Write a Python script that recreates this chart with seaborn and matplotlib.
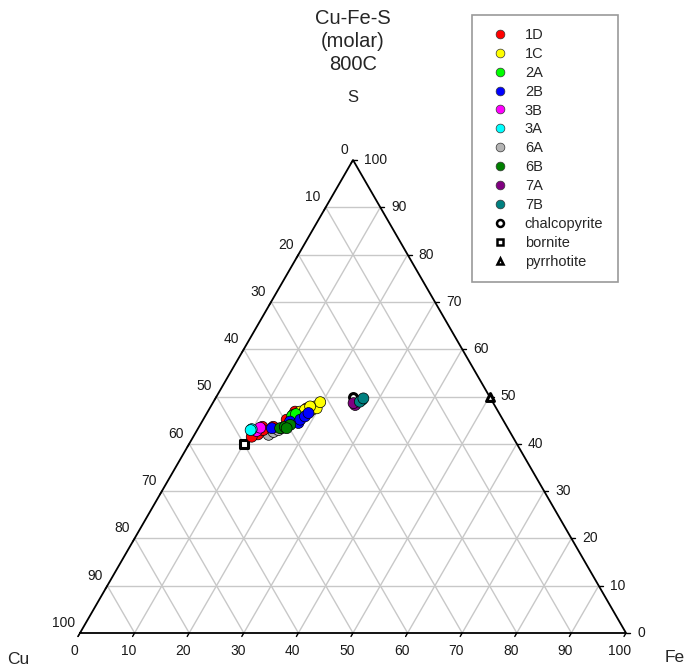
import numpy as np
import pandas as pd
import matplotlib
matplotlib.use("Agg")
import matplotlib.pyplot as plt
import seaborn as sns
from matplotlib.lines import Line2D
from matplotlib.patches import Rectangle

sns.set_style("white")
plt.rcParams["font.family"] = ["Liberation Sans", "DejaVu Sans"]

# ---------------- data (molar %, Cu = 100 - Fe - S) ----------------
samples = ["1D", "1C", "2A", "2B", "3B", "3A", "6A", "6B", "7A", "7B"]
sample_colors = ["#ff0000", "#ffff00", "#00ff00", "#0000ff", "#ff00ff",
                 "#00ffff", "#b4b4b4", "#008000", "#800080", "#008080"]

fe_1D = [11.6, 11.6, 12.1, 13.6, 15.3, 16.0, 17.8, 10.7]
s_1D = [42.0, 43.6, 42.9, 43.6, 45.1, 46.8, 47.5, 41.5]
fe_1C = [16.0, 16.9, 17.6, 18.9, 19.1, 19.6, 19.6, 18.2]
s_1C = [46.1, 46.8, 47.2, 47.2, 47.9, 47.5, 48.8, 47.9]
fe_2A = [15.9, 16.4]
s_2A = [45.9, 46.3]
fe_2B = [13.5, 16.1, 17.8, 17.8, 18.3, 18.6]
s_2B = [43.3, 44.7, 44.4, 45.1, 45.8, 46.5]
fe_3B = [11.0, 11.3]
s_3B = [42.7, 43.4]
fe_3A = [9.9, 9.8]
s_3A = [43.1, 42.9]
fe_6A = [13.6, 14.2, 14.9, 15.3, 17.6]
s_6A = [41.9, 42.5, 42.9, 43.3, 45.4]
fe_6B = [15.0, 15.7, 16.5, 16.2]
s_6B = [43.3, 43.6, 44.0, 43.3]
fe_7A = [26.3, 25.8]
s_7A = [48.2, 48.6]
fe_7B = [27.0, 26.8, 27.1]
s_7B = [49.3, 48.9, 49.6]

minerals = ["chalcopyrite", "bornite", "pyrrhotite"]
mineral_cu = [25.0, 50.0, 0.0]
mineral_fe = [25.0, 10.0, 50.0]
mineral_s = [50.0, 40.0, 50.0]
mineral_markers = ["o", "s", "^"]

tick_values = [0, 10, 20, 30, 40, 50, 60, 70, 80, 90, 100]
title_lines = ["Cu-Fe-S", "(molar)", "800C"]

# ---------------- ternary projection ----------------
H = np.sqrt(3) / 2


def proj(fe, s):
    fe = np.asarray(fe, float)
    s = np.asarray(s, float)
    return fe + s / 2, s * H


series = {
    "1D": (fe_1D, s_1D), "1C": (fe_1C, s_1C), "2A": (fe_2A, s_2A),
    "2B": (fe_2B, s_2B), "3B": (fe_3B, s_3B), "3A": (fe_3A, s_3A),
    "6A": (fe_6A, s_6A), "6B": (fe_6B, s_6B), "7A": (fe_7A, s_7A),
    "7B": (fe_7B, s_7B),
}
draw_order = ["6A", "1D", "1C", "2A", "2B", "6B", "3B", "3A", "7A", "7B"]
rows = []
for name in draw_order:
    fe, s = series[name]
    for f, v in zip(fe, s):
        rows.append({"sample": name, "Fe": f, "S": v, "Cu": 100 - f - v})
df = pd.DataFrame(rows)
df["x"], df["y"] = proj(df["Fe"], df["S"])

mdf = pd.DataFrame({"mineral": minerals, "Cu": mineral_cu,
                    "Fe": mineral_fe, "S": mineral_s})
mdf["x"], mdf["y"] = proj(mdf["Fe"], mdf["S"])

# ---------------- figure ----------------
W, Hpx = 689, 668
fig = plt.figure(figsize=(W / 100, Hpx / 100), dpi=100)
ax = fig.add_axes([80 / W, 35 / Hpx, 546 / W, 473 / Hpx])
ax.set_xlim(0, 100)
ax.set_ylim(0, 100 * H)
ax.axis("off")

grid_c = "#c8c8c8"
for k in tick_values[1:-1]:
    xs, ys = proj([0, 100 - k], [k, k])          # constant S
    ax.plot(xs, ys, color=grid_c, lw=1.0, zorder=1)
    xs, ys = proj([k, k], [0, 100 - k])          # constant Fe
    ax.plot(xs, ys, color=grid_c, lw=1.0, zorder=1)
    xs, ys = proj([100 - k, 0], [0, 100 - k])    # constant Cu
    ax.plot(xs, ys, color=grid_c, lw=1.0, zorder=1)

xs, ys = proj([0, 100, 0, 0], [0, 0, 100, 0])
ax.plot(xs, ys, color="black", lw=1.3, zorder=2, solid_joinstyle="miter",
        clip_on=False)

tick_fs = 10
tick_col = "#1a1a1a"
tl = 4 / 5.46  # tick length in data units
for k in tick_values:
    # bottom axis: Fe
    x0, y0 = proj(k, 0)
    ax.plot([x0, x0 - tl * 0.5], [y0, y0 - tl * H], color="black", lw=1,
            clip_on=False)
    ax.annotate(str(k), (x0, y0), xytext=(-6, -18), textcoords="offset pixels",
                ha="center", va="center", fontsize=tick_fs, color=tick_col)
    # right axis: S
    x0, y0 = proj(100 - k, k)
    ax.plot([x0, x0 + tl], [y0, y0], color="black", lw=1, clip_on=False)
    ax.annotate(str(k), (x0, y0), xytext=(11, 0), textcoords="offset pixels",
                ha="left", va="center", fontsize=tick_fs, color=tick_col)
    # left axis: Cu
    x0, y0 = proj(0, 100 - k)
    ax.plot([x0, x0 - tl * 0.5], [y0, y0 - tl * H], color="black", lw=1,
            clip_on=False)
    ax.annotate(str(k), (x0, y0), xytext=(-5, 10), textcoords="offset pixels",
                ha="right", va="center", fontsize=tick_fs, color=tick_col)

# corner labels
ax.annotate("S", proj(0, 100), xytext=(0, 62), textcoords="offset pixels",
            ha="center", va="center", fontsize=12)
ax.annotate("Cu", proj(0, 0), xytext=(-62, -26), textcoords="offset pixels",
            ha="center", va="center", fontsize=12.5)
ax.annotate("Fe", proj(100, 0), xytext=(49, -25), textcoords="offset pixels",
            ha="center", va="center", fontsize=12.5)

# title
for i, line in enumerate(title_lines):
    fig.text(353 / W, 1 - (19 + 22.5 * i) / Hpx, line, ha="center", va="center",
             fontsize=14.5)

# mineral reference points
for name, mk in zip(minerals, mineral_markers):
    sub = mdf[mdf["mineral"] == name]
    sns.scatterplot(data=sub, x="x", y="y", marker=mk, s=32, color="white",
                    edgecolor="black", linewidth=2.2, ax=ax, zorder=3,
                    legend=False, clip_on=False)

# samples
pal = dict(zip(samples, sample_colors))
sns.scatterplot(data=df, x="x", y="y", hue="sample", palette=pal,
                hue_order=samples, s=62, edgecolor="black", linewidth=0.5,
                ax=ax, zorder=4, legend=False)

# legend
handles = [Line2D([], [], ls="", marker="o", markersize=6.3, markerfacecolor=c,
                  markeredgecolor="#333333", markeredgewidth=0.5)
           for c in sample_colors]
handles += [Line2D([], [], ls="", marker=m, markersize=5, markerfacecolor="white",
                   markeredgecolor="black", markeredgewidth=1.8)
            for m in mineral_markers]
fig.legend(handles, samples + minerals, loc="upper left",
           bbox_to_anchor=(492 / W, 1 - 28 / Hpx), frameon=False,
           fontsize=10.5, handlelength=1.1, handletextpad=1.15, borderpad=0,
           borderaxespad=0, labelspacing=0.335)
fig.patches.append(Rectangle((472 / W, 1 - 282 / Hpx), 146 / W, 267 / Hpx,
                             transform=fig.transFigure, fill=False,
                             edgecolor="#9a9a9a", lw=1.2))

fig.savefig("out.png", dpi=100)
